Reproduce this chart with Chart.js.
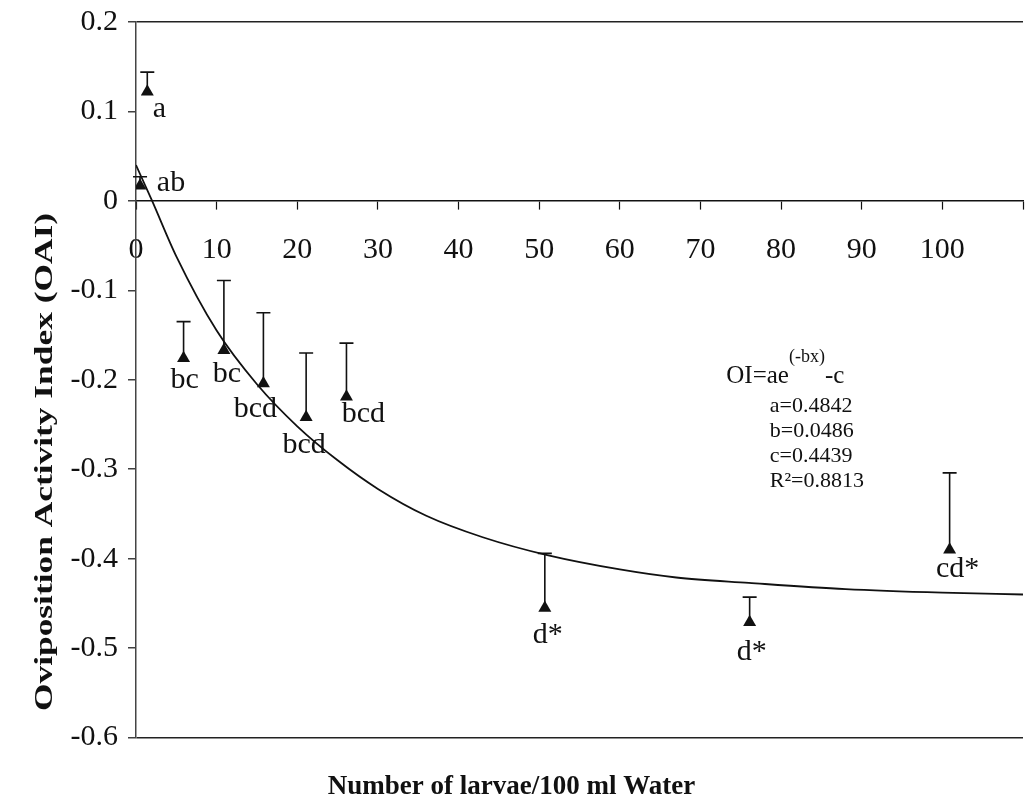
<!DOCTYPE html>
<html>
<head>
<meta charset="utf-8">
<script src="https://cdn.jsdelivr.net/npm/chart.js@4.4.1/dist/chart.umd.min.js"></script>
<style>
  html, body { margin: 0; padding: 0; background: #fff; }
  #wrap { width: 1027px; height: 806px; }
</style>
</head>
<body>
<div id="wrap"><canvas id="c"></canvas></div>
<script>
/* ===== Data ===== */
const LARVAE    = [1.4, 0.5, 5.9, 10.9, 15.8, 21.1, 26.1, 50.7, 76.1, 100.9];
const OAI       = [0.122, 0.017, -0.176, -0.167, -0.204, -0.242, -0.219, -0.455, -0.471, -0.390];
const OAI_UPPER = [0.144, 0.027, -0.135, -0.089, -0.125, -0.170, -0.159, -0.394, -0.443, -0.304];
const GROUPS    = ["a", "ab", "bc", "bc", "bcd", "bcd", "bcd", "d*", "d*", "cd*"];

// fitted curve
const CURVE_X = [0, 2, 5, 10, 15, 20, 25, 30, 36, 43, 51, 60, 67, 76, 88, 100, 110];
const CURVE_Y = [0.040, 0.000, -0.062, -0.145, -0.205, -0.252, -0.290, -0.322, -0.352,
                 -0.376, -0.396, -0.412, -0.421, -0.427, -0.434, -0.438, -0.440];

const X_TICKS = [0, 10, 20, 30, 40, 50, 60, 70, 80, 90, 100, 110];
const X_TICK_LABELS = ["0", "10", "20", "30", "40", "50", "60", "70", "80", "90", "100", ""];
const Y_TICKS = [-0.6, -0.5, -0.4, -0.3, -0.2, -0.1, 0, 0.1, 0.2];
const Y_TICK_LABELS = ["-0.6", "-0.5", "-0.4", "-0.3", "-0.2", "-0.1", "0", "0.1", "0.2"];

const FIT_LINES = ["a=0.4842", "b=0.0486", "c=0.4439", "R\u00b2=0.8813"];

/* ===== Styling ===== */
const INK = "#111";
const SERIF = "'Liberation Serif', 'Times New Roman', serif";
// label offset from marker [dx, dy] in px (text centred, dy to baseline)
const LABEL_OFFSETS = [[12, 25], [31, 5], [1, 30], [3, 32], [-8, 34], [-2, 36], [17, 25], [3, 35], [2, 38], [8, 27]];

Chart.defaults.font.family = SERIF;
Chart.defaults.color = INK;

const errorBars = {
  id: "errorBars",
  beforeDatasetsDraw(chart) {
    const { ctx, scales: { x, y } } = chart;
    ctx.save();
    ctx.strokeStyle = INK;
    ctx.lineWidth = 1.6;
    LARVAE.forEach((lv, i) => {
      const px = x.getPixelForValue(lv);
      const y0 = y.getPixelForValue(OAI[i]);
      const y1 = y.getPixelForValue(OAI_UPPER[i]);
      ctx.beginPath();
      ctx.moveTo(px, y0);
      ctx.lineTo(px, y1);
      ctx.moveTo(px - 7, y1);
      ctx.lineTo(px + 7, y1);
      ctx.stroke();
    });
    ctx.restore();
  },
};

const pointLabels = {
  id: "pointLabels",
  afterDatasetsDraw(chart) {
    const { ctx, scales: { x, y } } = chart;
    ctx.save();
    ctx.fillStyle = INK;
    ctx.font = "30px " + SERIF;
    ctx.textAlign = "center";
    ctx.textBaseline = "alphabetic";
    GROUPS.forEach((g, i) => {
      const [dx, dy] = LABEL_OFFSETS[i];
      ctx.fillText(g, x.getPixelForValue(LARVAE[i]) + dx, y.getPixelForValue(OAI[i]) + dy);
    });
    ctx.restore();
  },
};

const extraText = {
  id: "extraText",
  afterDraw(chart) {
    const { ctx, scales: { x, y } } = chart;
    ctx.save();
    ctx.fillStyle = INK;
    ctx.textBaseline = "alphabetic";
    ctx.textAlign = "left";

    // fit equation
    let ex = x.getPixelForValue(73.2);
    const ey = y.getPixelForValue(-0.204);
    ctx.font = "25px " + SERIF;
    ctx.fillText("OI=ae", ex, ey);
    ex += ctx.measureText("OI=ae").width;
    ctx.font = "18px " + SERIF;
    ctx.fillText("(-bx)", ex, ey - 21);
    ex += ctx.measureText("(-bx)").width;
    ctx.font = "25px " + SERIF;
    ctx.fillText("-c", ex, ey);

    ctx.font = "22px " + SERIF;
    const px = x.getPixelForValue(78.6);
    FIT_LINES.forEach((t, i) => {
      ctx.fillText(t, px, ey + 29 + i * 25);
    });

    // y axis title (stretched along its length like the original)
    ctx.font = "bold 26px " + SERIF;
    ctx.translate(45, 462);
    ctx.rotate(-Math.PI / 2);
    ctx.scale(1.36, 1);
    ctx.textAlign = "center";
    ctx.textBaseline = "middle";
    ctx.fillText("Oviposition Activity Index (OAI)", 0, 0);
    ctx.restore();
  },
};

new Chart(document.getElementById("c"), {
  type: "scatter",
  data: {
    datasets: [
      {
        label: "OAI",
        data: LARVAE.map((v, i) => ({ x: v, y: OAI[i] })),
        pointStyle: "triangle",
        pointRadius: 7.5,
        pointBackgroundColor: INK,
        pointBorderWidth: 0,
      },
      {
        type: "line",
        label: "fit",
        data: CURVE_X.map((v, i) => ({ x: v, y: CURVE_Y[i] })),
        borderColor: INK,
        borderWidth: 1.8,
        pointRadius: 0,
        cubicInterpolationMode: "monotone",
        fill: false,
      },
    ],
  },
  options: {
    responsive: true,
    maintainAspectRatio: false,
    animation: false,
    layout: { autoPadding: false, padding: { top: 22, right: 4, bottom: 0, left: 0 } },
    plugins: {
      legend: { display: false },
      tooltip: { enabled: false },
      title: {
        display: true,
        position: "bottom",
        text: "Number of larvae/100 ml Water",
        color: INK,
        font: { family: SERIF, size: 27, weight: "bold" },
        padding: { top: 33, bottom: 3 },
      },
    },
    scales: {
      x: {
        type: "linear",
        position: { y: 0 },
        min: 0,
        max: 110,
        afterBuildTicks: (s) => { s.ticks = X_TICKS.map((v) => ({ value: v })); },
        afterFit: (s) => { s.paddingLeft = 0; s.paddingRight = 0; },
        ticks: {
          autoSkip: false,
          maxRotation: 0,
          padding: 23,
          font: { size: 30 },
          color: INK,
          callback: (v, i) => X_TICK_LABELS[i],
        },
        grid: { drawOnChartArea: false, drawTicks: true, tickLength: 8, tickColor: INK, tickWidth: 1.2 },
        border: { display: true, color: INK, width: 1.6 },
      },
      y: {
        position: "left",
        min: -0.6,
        max: 0.2,
        afterBuildTicks: (s) => { s.ticks = Y_TICKS.map((v) => ({ value: v })); },
        afterFit: (s) => {
          s.width = 136;
          s.paddingTop = 0; s.paddingBottom = 0; s.paddingLeft = 0; s.paddingRight = 0;
        },
        ticks: {
          padding: 10,
          font: { size: 30 },
          color: INK,
          callback: (v, i) => Y_TICK_LABELS[i],
        },
        grid: {
          drawTicks: true,
          tickLength: 8,
          tickColor: INK,
          tickWidth: 1.2,
          lineWidth: 1.6,
          color: (c) => (c.tick && (Math.abs(c.tick.value - 0.2) < 1e-6 || Math.abs(c.tick.value + 0.6) < 1e-6) ? "#222" : "rgba(0,0,0,0)"),
        },
        border: { display: true, color: "#444", width: 1.5 },
      },
    },
  },
  plugins: [errorBars, pointLabels, extraText],
});
</script>
</body>
</html>
